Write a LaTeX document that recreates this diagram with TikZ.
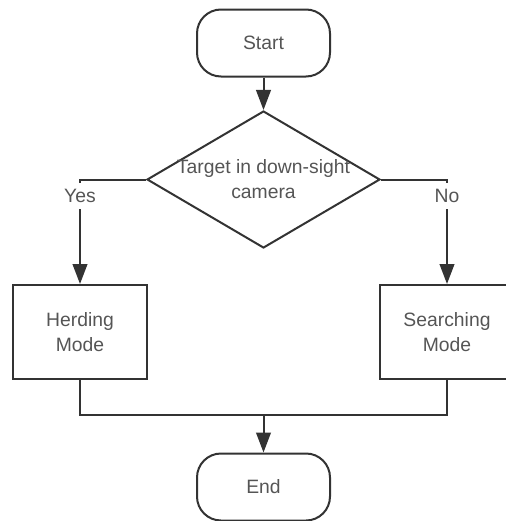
\documentclass[tikz,border=0pt]{standalone}
\usepackage{fontspec}
\setmainfont{Liberation Sans}
\usetikzlibrary{shapes.geometric,arrows.meta}
\definecolor{linec}{RGB}{51,51,51}
\definecolor{textc}{RGB}{85,85,85}
\tikzset{
 fnt/.style={font=\fontsize{14.5}{18.75}\selectfont},
 base/.style={draw=linec, line width=1.5pt, text=textc, fnt, align=center, inner sep=0pt},
 term/.style={base, rectangle, rounded corners=18pt, minimum width=99.75pt, minimum height=50.25pt},
 decision/.style={base, diamond, minimum width=174.75pt, minimum height=102.75pt},
 process/.style={base, rectangle, minimum width=100.5pt, minimum height=70.5pt},
 txt/.style={text=textc, fnt, align=center, inner sep=0pt},
 conn/.style={draw=linec, line width=1.5pt},
 arr/.style={conn, -{Triangle[length=15pt,width=11pt]}},
 lbl/.style={fill=white, text=textc, fnt, inner xsep=1pt, inner ysep=4.5pt}
}
\begin{document}
\begin{tikzpicture}[x=0.75pt,y=-0.75pt]
\clip (0,0) rectangle (506,521);
\node[term] (start) at (263.5,43) {Start};
\node[decision] (dec) at (263.5,179.5) {};
\node[txt] (dectext) at (263.5,179) {Target in down-sight\\camera};
\node[process] (herd) at (80,332) {Herding\\Mode};
\node[process] (search) at (447,332) {Searching\\Mode};
\node[term] (end) at (263.5,487) {End};
\coordinate (m) at (263.5,415);
\draw[arr] (start) -- (dec);
\draw[arr] (dec.west) -| node[lbl,pos=0.58]{Yes} (herd.north);
\draw[arr] (dec.east) -| node[lbl,pos=0.58]{No} (search.north);
\draw[conn] (herd.south) |- (m) -| (search.south);
\draw[arr] (m) -- (end);
\end{tikzpicture}
\end{document}
